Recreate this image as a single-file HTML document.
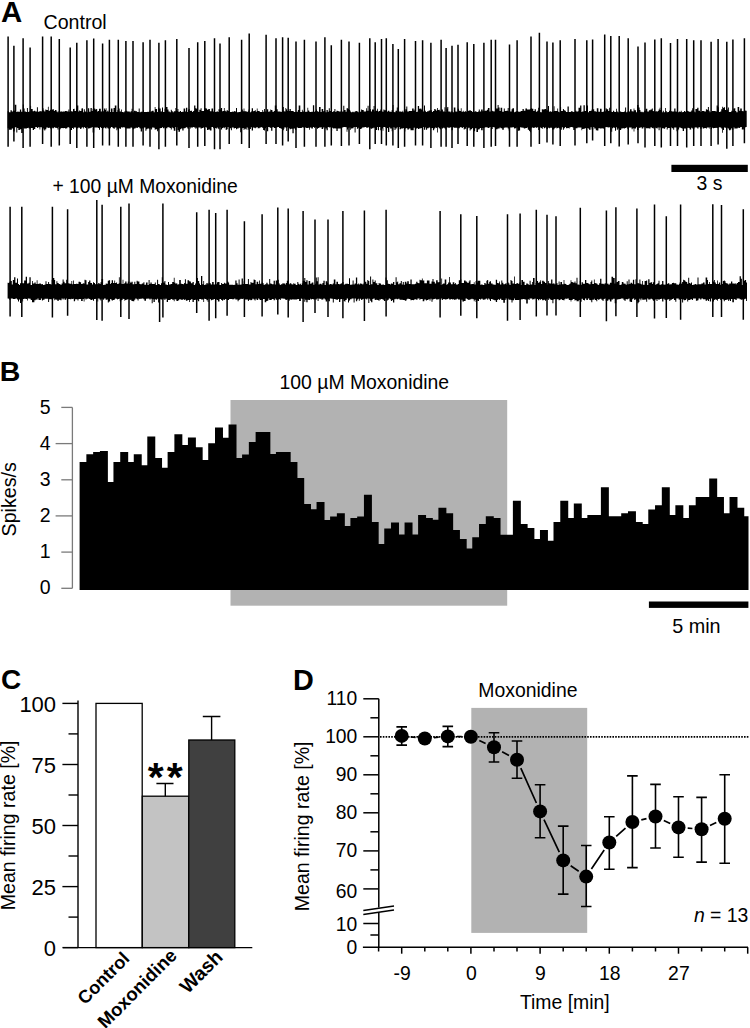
<!DOCTYPE html><html><head><meta charset="utf-8"><style>html,body{margin:0;padding:0;background:#fff;}svg{display:block;}text{font-family:"Liberation Sans", sans-serif;}</style></head><body>
<svg width="750" height="1028" viewBox="0 0 750 1028">
<rect width="750" height="1028" fill="#fff"/>
<text x="1.05" y="21.8" font-size="29.4" font-weight="bold">A</text>
<text x="43.5" y="29.1" font-size="19.6">Control</text>
<path d="M7.6 111.3V111.3H8.9V112.3H10.5V110.3H11.8V111.4H13.1V110.7H14.7V104.7H16.3V112.0H17.3V111.6H18.3V111.8H19.9V109.6H21.2V111.7H22.8V104.6H23.8V108.4H24.6V111.6H25.9V112.1H26.9V108.0H27.9V111.9H28.7V111.5H30.3V105.8H31.1V108.9H32.7V111.3H34.0V110.8H35.3V111.6H36.9V107.3H37.9V111.7H39.5V111.1H40.3V111.3H41.9V111.9H42.7V108.3H43.5V110.5H44.3V111.4H45.3V109.4H46.3V110.0H47.9V106.7H48.7V110.8H50.0V109.8H51.0V110.0H52.3V109.2H53.9V111.0H54.9V110.0H56.5V111.4H57.5V112.2H58.5V111.1H59.8V112.1H60.6V111.1H61.4V111.8H62.7V111.4H63.7V111.6H65.0V111.0H66.6V111.3H67.4V111.6H68.4V109.4H69.4V111.8H70.4V111.3H72.0V111.4H73.0V109.0H73.8V108.8H74.6V111.0H76.2V108.4H77.0V105.5H78.3V111.5H79.1V110.4H80.1V111.0H81.4V108.4H82.2V108.3H83.0V112.3H83.8V109.2H84.8V111.6H85.8V111.8H86.6V112.2H87.9V108.2H89.2V111.8H90.5V108.0H91.8V111.0H92.6V108.7H94.2V108.4H95.2V109.6H96.2V108.9H97.2V111.4H98.0V111.1H99.0V108.7H100.0V108.8H100.8V111.6H102.1V109.2H102.9V111.2H103.9V108.5H104.9V109.8H105.7V108.2H106.5V111.7H107.3V110.7H108.6V112.0H109.9V111.9H110.9V108.6H112.5V112.1H113.5V107.9H114.8V105.6H116.4V111.9H117.4V110.3H118.4V108.4H119.7V111.4H121.0V109.6H121.8V111.9H123.1V112.2H124.4V111.3H125.4V111.2H126.2V110.7H127.2V111.6H128.8V111.5H129.8V112.2H130.6V111.3H131.6V108.7H132.6V112.2H133.9V110.7H135.5V111.2H137.1V111.9H137.9V112.1H138.7V108.5H139.7V112.2H140.7V111.7H142.0V111.8H143.0V109.9H143.8V112.0H145.4V112.0H146.4V112.0H147.4V111.8H148.7V112.1H149.5V110.5H150.3V111.9H151.1V111.2H152.1V110.8H153.7V112.2H154.7V107.1H155.5V109.1H157.1V112.0H158.1V107.5H159.1V108.5H160.7V111.5H162.0V107.6H163.0V111.9H164.6V108.8H165.9V107.1H167.5V109.6H168.5V111.6H169.8V112.2H170.8V109.8H171.8V111.3H172.8V112.2H173.8V111.2H175.4V108.0H176.4V111.1H177.4V108.9H178.4V111.8H180.0V111.1H181.0V111.9H182.3V111.8H183.6V108.4H185.2V111.4H186.0V107.8H187.3V112.0H188.1V109.4H188.9V109.0H189.7V110.9H190.5V110.8H192.1V112.1H193.1V111.1H194.1V105.6H195.4V108.3H196.4V108.7H197.7V112.1H199.3V109.8H200.6V108.3H201.6V111.0H203.2V111.0H204.2V108.0H205.0V108.2H206.0V108.6H207.0V109.8H208.3V109.1H209.9V111.2H211.5V108.5H213.1V111.4H213.9V111.7H214.9V112.0H215.9V111.7H216.9V111.3H217.7V111.9H218.5V109.2H219.5V109.4H220.8V107.9H222.1V111.3H223.1V111.0H223.9V107.9H224.7V110.8H225.7V111.5H226.7V109.9H227.7V110.9H229.3V112.1H230.9V112.0H231.9V111.5H232.7V111.9H233.7V111.1H234.7V111.6H236.0V108.0H237.0V112.3H238.6V112.1H240.2V111.7H241.2V109.6H242.8V111.2H243.6V108.5H244.4V111.3H245.7V111.2H246.7V112.1H247.7V111.2H248.5V109.6H249.3V112.2H250.9V111.5H251.7V108.3H253.0V111.2H253.8V110.9H254.8V110.3H255.8V111.7H256.8V108.6H257.6V111.0H258.4V111.0H259.7V112.1H261.3V111.9H262.3V110.0H263.1V111.7H264.1V109.0H265.1V111.4H266.1V111.7H266.9V109.2H268.2V111.8H269.0V111.6H270.3V109.6H271.1V109.9H272.4V111.7H274.0V110.9H274.8V105.6H276.4V109.3H277.7V111.4H279.0V111.6H280.6V112.1H281.4V111.8H283.0V107.1H283.8V111.3H284.6V111.5H285.4V107.9H286.2V109.3H287.2V111.0H288.5V110.9H289.5V109.1H290.8V110.9H292.4V110.9H293.7V112.0H295.0V112.0H296.3V111.8H297.9V110.0H298.7V105.6H300.3V112.0H301.9V109.7H302.7V111.6H303.7V111.5H305.3V111.9H306.1V111.8H307.4V107.8H308.2V110.6H309.2V111.8H310.0V112.1H311.3V111.8H312.9V105.2H314.2V111.7H315.2V110.9H316.0V109.4H317.0V111.3H318.0V111.7H319.0V107.1H320.6V112.0H321.6V109.0H323.2V111.3H324.2V111.1H325.2V112.3H326.5V109.9H327.8V111.8H328.8V108.2H329.8V110.9H331.1V111.4H332.1V112.1H333.1V111.3H334.4V109.0H335.4V112.0H336.4V110.8H337.7V111.0H338.7V111.5H340.3V111.4H341.3V111.8H342.3V111.6H343.3V105.8H344.3V110.0H345.6V111.8H346.6V108.3H347.4V108.2H348.2V109.1H349.2V109.9H350.2V111.6H351.0V112.2H352.3V111.8H353.6V112.2H354.6V111.4H355.6V111.1H356.9V111.6H358.2V112.2H359.8V111.7H361.1V109.6H362.1V109.9H363.7V111.4H365.0V111.4H366.0V108.2H366.8V110.8H367.6V105.8H368.6V110.7H370.2V108.9H371.0V111.4H372.0V109.6H373.6V106.1H374.6V111.6H375.6V110.8H377.2V108.8H378.0V111.4H379.0V111.1H380.3V109.5H381.6V111.4H382.6V111.7H383.4V109.6H384.4V110.3H385.4V110.2H386.4V112.0H387.2V111.4H388.0V110.8H389.3V111.7H390.1V111.7H391.7V109.9H392.7V105.0H393.5V112.1H394.5V112.2H395.5V110.7H396.8V107.5H397.8V111.7H398.8V111.6H399.6V111.4H400.9V111.8H402.5V110.8H403.3V112.3H404.3V111.3H405.3V109.3H406.3V106.5H407.3V111.4H408.9V111.0H410.5V110.9H412.1V108.6H413.7V110.5H414.7V109.0H416.0V111.9H417.0V111.8H417.8V106.1H419.1V108.8H420.4V108.5H421.4V109.4H422.7V111.5H424.0V105.4H425.0V110.8H425.8V112.1H427.1V111.2H428.7V110.4H430.3V110.3H431.9V112.1H432.9V111.1H434.2V109.1H435.2V109.5H436.2V110.7H437.0V107.9H437.8V109.9H438.8V109.8H439.8V111.3H441.1V109.6H441.9V109.4H442.9V111.6H444.5V107.2H445.5V112.0H446.5V108.6H447.3V106.9H448.3V111.5H449.9V112.3H450.7V111.3H451.5V111.5H452.8V112.2H453.8V107.5H455.4V111.4H456.7V111.8H457.7V108.7H459.0V110.8H459.8V111.0H460.8V108.3H461.6V111.8H462.9V110.8H463.7V112.1H464.7V111.2H466.3V112.1H467.3V111.1H468.3V110.8H469.6V110.0H470.6V111.1H472.2V112.0H473.8V111.8H475.1V111.3H476.4V111.9H478.0V111.4H478.8V109.6H479.8V111.5H481.1V109.4H482.7V111.2H484.3V110.8H485.3V110.7H486.9V109.8H487.9V108.0H489.5V111.6H491.1V110.8H492.7V111.2H493.7V111.4H494.7V111.2H496.0V108.5H497.6V105.0H498.6V107.6H499.6V110.9H500.6V107.7H502.2V111.7H503.8V108.5H504.8V110.9H506.4V110.7H507.7V108.1H508.7V111.2H510.0V111.4H511.6V109.2H512.4V108.2H514.0V112.2H514.8V111.7H516.4V111.1H517.7V111.4H518.5V111.8H520.1V111.5H520.9V110.9H522.5V109.0H523.8V110.7H525.4V108.5H527.0V109.4H527.8V109.5H529.1V109.5H529.9V108.9H530.9V108.0H531.7V108.7H533.3V111.0H534.6V109.3H535.9V111.8H537.2V110.8H538.2V107.7H539.2V111.9H540.5V112.2H541.8V109.2H542.8V109.5H543.8V109.2H545.1V109.1H546.4V110.3H548.0V106.0H549.0V111.8H549.8V111.2H550.8V111.7H552.1V111.4H553.7V106.2H554.5V110.9H555.5V111.1H556.5V110.9H557.3V108.5H558.1V111.8H559.1V112.2H560.1V107.1H561.1V111.1H561.9V110.9H562.9V108.9H563.9V110.2H564.9V110.8H565.9V111.9H567.5V106.6H568.8V112.0H569.6V111.9H570.9V111.3H572.5V111.7H573.3V112.0H574.9V110.8H576.5V111.8H577.5V111.2H578.5V107.8H580.1V105.5H581.4V112.1H582.2V111.5H583.5V105.2H584.8V110.9H586.4V105.4H588.0V112.3H589.0V110.9H590.6V110.7H591.6V109.6H593.2V109.3H594.2V111.2H595.8V111.7H596.8V108.2H598.4V111.8H600.0V108.8H601.6V112.1H602.6V111.7H603.6V111.4H604.6V111.3H605.6V108.3H606.6V109.2H608.2V110.9H609.2V107.8H610.2V111.0H611.2V111.9H612.2V111.9H613.0V110.8H614.0V111.8H615.0V112.1H616.0V108.8H616.8V111.4H617.8V112.2H619.1V111.4H619.9V111.4H621.2V112.1H622.5V112.1H624.1V111.4H625.1V107.6H626.1V112.3H627.4V111.5H628.2V111.2H629.0V111.5H630.0V109.3H631.6V111.2H632.6V111.6H633.6V108.4H634.4V110.3H636.0V112.2H637.0V104.9H638.6V107.4H639.6V110.1H640.4V111.8H641.7V112.2H642.5V111.8H643.3V112.2H644.1V110.8H645.7V108.8H647.3V111.6H648.9V110.3H650.5V109.4H651.8V108.4H652.8V111.1H653.8V111.6H654.8V111.7H655.6V110.9H656.6V111.7H657.6V111.0H658.6V109.4H659.6V107.7H660.4V109.9H662.0V112.3H662.8V110.7H663.8V112.3H665.1V107.9H665.9V110.9H666.7V112.2H667.7V112.0H669.0V110.8H670.3V111.1H671.6V111.6H673.2V111.4H674.2V108.5H675.5V111.6H676.5V111.8H678.1V112.2H679.1V111.4H679.9V112.0H680.7V110.7H681.7V112.3H682.7V112.0H684.0V111.0H685.3V111.9H686.3V110.6H687.3V111.1H688.6V111.7H689.6V111.8H691.2V110.4H692.2V108.3H693.0V111.4H694.6V112.3H695.4V109.1H696.4V109.0H697.2V107.8H698.5V110.8H700.1V112.0H701.7V111.0H702.7V110.9H704.3V111.6H705.9V109.2H706.9V109.8H707.9V107.0H708.9V110.7H709.7V112.3H710.7V111.7H712.0V111.0H713.0V111.1H714.0V110.9H715.6V111.4H716.6V105.6H717.9V107.2H718.9V112.0H720.2V111.5H721.2V109.3H722.2V106.8H723.0V107.8H724.0V107.3H725.0V110.1H726.3V111.3H727.1V109.4H727.9V107.6H728.9V112.0H730.5V111.9H731.3V110.8H732.3V111.1H733.3V108.5H734.3V108.3H735.3V111.0H736.3V112.2H737.6V107.0H739.2V110.7H740.2V108.5H741.8V111.1H742.6V111.2H743.9V110.4H745.5V110.8H746.7V126.9H745.5V127.6H743.9V129.5H742.6V129.4H741.8V127.0H740.2V128.1H739.2V127.8H737.6V128.4H736.3V128.4H735.3V128.6H734.3V127.2H733.3V129.7H732.3V128.2H731.3V129.5H730.5V130.2H728.9V128.6H727.9V127.7H727.1V128.6H726.3V127.8H725.0V127.4H724.0V130.1H723.0V132.8H722.2V128.5H721.2V127.5H720.2V127.2H718.9V127.6H717.9V128.0H716.6V127.8H715.6V128.1H714.0V128.3H713.0V127.8H712.0V129.1H710.7V126.9H709.7V128.5H708.9V127.5H707.9V127.6H706.9V128.4H705.9V128.0H704.3V128.4H702.7V127.3H701.7V128.8H700.1V127.2H698.5V128.6H697.2V127.5H696.4V127.5H695.4V127.3H694.6V128.6H693.0V128.6H692.2V127.7H691.2V129.5H689.6V128.1H688.6V127.7H687.3V128.1H686.3V128.5H685.3V128.4H684.0V131.0H682.7V128.4H681.7V127.9H680.7V127.4H679.9V127.6H679.1V129.4H678.1V131.3H676.5V127.4H675.5V127.5H674.2V129.8H673.2V128.2H671.6V127.2H670.3V128.1H669.0V127.9H667.7V129.5H666.7V127.1H665.9V127.5H665.1V128.8H663.8V128.3H662.8V128.3H662.0V127.4H660.4V127.5H659.6V130.3H658.6V127.4H657.6V128.4H656.6V128.1H655.6V127.5H654.8V127.6H653.8V128.5H652.8V128.0H651.8V127.2H650.5V128.4H648.9V128.2H647.3V128.3H645.7V127.3H644.1V127.2H643.3V128.5H642.5V128.6H641.7V127.3H640.4V128.0H639.6V127.7H638.6V129.9H637.0V127.3H636.0V128.5H634.4V131.6H633.6V128.3H632.6V129.2H631.6V127.5H630.0V127.6H629.0V130.0H628.2V129.0H627.4V127.4H626.1V128.0H625.1V128.5H624.1V128.2H622.5V128.4H621.2V130.1H619.9V129.7H619.1V128.4H617.8V129.8H616.8V127.2H616.0V130.7H615.0V127.7H614.0V127.5H613.0V128.2H612.2V131.7H611.2V126.9H610.2V127.3H609.2V127.4H608.2V127.2H606.6V127.0H605.6V127.2H604.6V128.7H603.6V128.6H602.6V128.2H601.6V128.4H600.0V128.3H598.4V130.5H596.8V130.2H595.8V128.5H594.2V127.0H593.2V129.5H591.6V127.3H590.6V129.8H589.0V128.6H588.0V128.0H586.4V128.2H584.8V128.7H583.5V129.1H582.2V130.3H581.4V127.6H580.1V127.6H578.5V127.6H577.5V128.2H576.5V128.3H574.9V130.0H573.3V127.4H572.5V127.0H570.9V127.2H569.6V128.6H568.8V128.0H567.5V128.2H565.9V127.1H564.9V128.3H563.9V129.7H562.9V127.3H561.9V129.7H561.1V128.6H560.1V128.5H559.1V127.8H558.1V127.9H557.3V128.6H556.5V127.6H555.5V128.1H554.5V129.2H553.7V129.4H552.1V127.7H550.8V127.8H549.8V128.3H549.0V127.7H548.0V128.9H546.4V127.5H545.1V128.2H543.8V126.9H542.8V128.7H541.8V127.9H540.5V127.0H539.2V130.0H538.2V127.2H537.2V127.7H535.9V127.2H534.6V128.0H533.3V127.5H531.7V128.2H530.9V132.2H529.9V131.1H529.1V129.7H527.8V127.5H527.0V128.1H525.4V128.6H523.8V127.7H522.5V127.4H520.9V127.2H520.1V130.5H518.5V131.0H517.7V127.4H516.4V128.2H514.8V128.4H514.0V127.3H512.4V127.4H511.6V127.5H510.0V130.4H508.7V128.6H507.7V127.6H506.4V127.6H504.8V127.7H503.8V129.8H502.2V128.2H500.6V127.6H499.6V128.4H498.6V128.4H497.6V129.3H496.0V127.0H494.7V127.6H493.7V127.1H492.7V128.9H491.1V127.1H489.5V128.1H487.9V127.4H486.9V127.2H485.3V127.4H484.3V127.9H482.7V130.3H481.1V128.1H479.8V129.2H478.8V129.4H478.0V132.0H476.4V128.3H475.1V131.2H473.8V128.1H472.2V129.2H470.6V130.4H469.6V127.8H468.3V128.5H467.3V127.0H466.3V128.7H464.7V129.6H463.7V127.0H462.9V128.0H461.6V126.9H460.8V127.2H459.8V128.3H459.0V128.3H457.7V127.8H456.7V127.8H455.4V127.8H453.8V127.3H452.8V130.3H451.5V127.1H450.7V127.4H449.9V127.8H448.3V127.5H447.3V127.2H446.5V129.8H445.5V128.4H444.5V127.7H442.9V128.5H441.9V127.6H441.1V129.2H439.8V128.3H438.8V127.2H437.8V132.5H437.0V128.0H436.2V127.4H435.2V128.6H434.2V130.3H432.9V127.9H431.9V128.2H430.3V127.4H428.7V128.2H427.1V129.7H425.8V127.5H425.0V129.7H424.0V126.9H422.7V128.0H421.4V128.3H420.4V128.5H419.1V129.0H417.8V128.1H417.0V128.6H416.0V127.4H414.7V127.8H413.7V130.3H412.1V130.3H410.5V128.4H408.9V129.4H407.3V128.1H406.3V128.5H405.3V131.5H404.3V128.0H403.3V128.4H402.5V128.6H400.9V129.3H399.6V127.0H398.8V127.3H397.8V127.2H396.8V128.4H395.5V130.1H394.5V127.5H393.5V127.1H392.7V131.3H391.7V128.6H390.1V127.3H389.3V131.9H388.0V127.9H387.2V128.4H386.4V127.8H385.4V127.1H384.4V126.9H383.4V130.7H382.6V128.6H381.6V130.3H380.3V127.1H379.0V130.2H378.0V127.0H377.2V130.1H375.6V127.9H374.6V127.6H373.6V128.2H372.0V128.7H371.0V128.4H370.2V127.5H368.6V127.2H367.6V128.1H366.8V127.6H366.0V127.1H365.0V127.3H363.7V127.5H362.1V128.4H361.1V129.1H359.8V127.7H358.2V128.7H356.9V126.9H355.6V132.6H354.6V127.0H353.6V128.3H352.3V128.4H351.0V129.8H350.2V127.4H349.2V127.8H348.2V129.6H347.4V131.8H346.6V127.3H345.6V127.1H344.3V127.0H343.3V127.5H342.3V127.4H341.3V128.5H340.3V128.5H338.7V128.6H337.7V130.9H336.4V128.4H335.4V128.2H334.4V128.6H333.1V127.8H332.1V130.9H331.1V127.3H329.8V127.4H328.8V127.1H327.8V130.2H326.5V128.6H325.2V127.1H324.2V127.4H323.2V129.1H321.6V127.3H320.6V127.6H319.0V128.1H318.0V128.7H317.0V127.5H316.0V126.9H315.2V128.1H314.2V127.1H312.9V128.4H311.3V127.4H310.0V129.7H309.2V127.7H308.2V128.0H307.4V128.1H306.1V127.4H305.3V127.5H303.7V127.6H302.7V127.2H301.9V128.1H300.3V128.0H298.7V128.1H297.9V127.4H296.3V129.8H295.0V128.5H293.7V133.3H292.4V128.7H290.8V129.3H289.5V127.9H288.5V127.3H287.2V131.1H286.2V127.7H285.4V127.0H284.6V128.4H283.8V130.3H283.0V128.7H281.4V128.7H280.6V128.0H279.0V127.0H277.7V127.3H276.4V128.1H274.8V128.0H274.0V127.3H272.4V130.8H271.1V128.1H270.3V127.3H269.0V127.1H268.2V131.2H266.9V126.9H266.1V128.3H265.1V130.5H264.1V130.1H263.1V128.1H262.3V126.9H261.3V127.6H259.7V128.3H258.4V128.2H257.6V126.9H256.8V127.5H255.8V128.2H254.8V127.7H253.8V127.4H253.0V130.6H251.7V127.3H250.9V129.0H249.3V128.5H248.5V130.0H247.7V127.4H246.7V129.5H245.7V128.7H244.4V130.0H243.6V127.9H242.8V128.2H241.2V132.3H240.2V127.7H238.6V128.6H237.0V129.3H236.0V128.0H234.7V128.4H233.7V127.5H232.7V127.6H231.9V130.3H230.9V128.3H229.3V127.1H227.7V129.3H226.7V129.9H225.7V127.2H224.7V128.2H223.9V127.5H223.1V128.0H222.1V129.4H220.8V127.3H219.5V129.3H218.5V128.5H217.7V127.6H216.9V128.6H215.9V128.0H214.9V130.1H213.9V128.3H213.1V127.0H211.5V130.5H209.9V129.6H208.3V129.9H207.0V127.5H206.0V127.1H205.0V128.1H204.2V127.4H203.2V128.0H201.6V128.8H200.6V127.4H199.3V127.4H197.7V127.7H196.4V128.7H195.4V127.5H194.1V126.9H193.1V127.5H192.1V127.4H190.5V128.8H189.7V127.0H188.9V128.7H188.1V128.4H187.3V127.3H186.0V127.7H185.2V128.2H183.6V130.4H182.3V128.6H181.0V129.2H180.0V131.8H178.4V130.1H177.4V127.2H176.4V127.0H175.4V130.8H173.8V128.3H172.8V127.4H171.8V129.5H170.8V127.9H169.8V127.4H168.5V126.9H167.5V128.2H165.9V127.3H164.6V128.3H163.0V127.2H162.0V128.1H160.7V128.3H159.1V129.7H158.1V131.3H157.1V129.2H155.5V129.8H154.7V127.7H153.7V127.4H152.1V129.4H151.1V128.3H150.3V129.3H149.5V128.6H148.7V128.5H147.4V129.2H146.4V130.8H145.4V127.5H143.8V128.6H143.0V128.6H142.0V131.4H140.7V128.4H139.7V127.4H138.7V127.1H137.9V127.9H137.1V127.7H135.5V128.5H133.9V129.3H132.6V127.8H131.6V127.4H130.6V128.5H129.8V128.5H128.8V128.5H127.2V128.4H126.2V128.3H125.4V127.6H124.4V127.2H123.1V127.5H121.8V127.2H121.0V128.7H119.7V128.2H118.4V128.7H117.4V130.3H116.4V127.4H114.8V128.7H113.5V127.9H112.5V127.1H110.9V128.2H109.9V129.0H108.6V128.2H107.3V127.2H106.5V128.5H105.7V128.3H104.9V127.5H103.9V128.3H102.9V130.0H102.1V128.1H100.8V127.0H100.0V129.7H99.0V128.1H98.0V127.5H97.2V127.5H96.2V127.6H95.2V127.4H94.2V132.5H92.6V126.9H91.8V127.7H90.5V128.2H89.2V128.4H87.9V127.3H86.6V127.7H85.8V128.0H84.8V127.1H83.8V128.4H83.0V127.2H82.2V127.8H81.4V129.1H80.1V127.8H79.1V127.4H78.3V128.3H77.0V128.6H76.2V127.4H74.6V127.5H73.8V129.1H73.0V128.1H72.0V129.9H70.4V128.0H69.4V127.3H68.4V127.2H67.4V128.2H66.6V128.5H65.0V128.1H63.7V128.2H62.7V128.1H61.4V128.3H60.6V129.3H59.8V127.1H58.5V129.4H57.5V128.1H56.5V127.8H54.9V127.2H53.9V128.3H52.3V127.6H51.0V128.6H50.0V127.7H48.7V127.9H47.9V127.5H46.3V129.3H45.3V130.5H44.3V129.6H43.5V128.2H42.7V127.6H41.9V127.3H40.3V129.5H39.5V127.3H37.9V127.9H36.9V127.1H35.3V128.9H34.0V130.0H32.7V127.9H31.1V128.3H30.3V128.6H28.7V127.7H27.9V128.1H26.9V128.6H25.9V128.4H24.6V128.6H23.8V127.7H22.8V133.0H21.2V129.3H19.9V130.1H18.3V128.0H17.3V132.6H16.3V127.2H14.7V131.5H13.1V128.6H11.8V129.7H10.5V129.8H8.9V128.3H7.6Z" fill="#000"/>
<path d="M8.1 36.5V146.7M13.9 45.8V141.6M23.1 38.2V148.0M30.1 47.4V146.7M42.6 36.5V144.1M51.2 36.5V146.7M59.3 39.0V145.4M70.2 47.4V144.1M76.8 42.8V148.0M86.9 40.3V146.7M93.7 38.5V148.0M102.6 43.6V145.4M109.4 39.8V145.4M118.3 39.8V146.7M125.9 41.0V146.7M133.0 41.0V146.7M143.1 42.3V145.4M150.0 39.8V146.7M158.9 42.8V149.2M165.4 40.3V146.7M176.8 39.0V145.4M189.0 47.9V148.0M197.7 42.3V146.7M204.8 41.0V146.0M214.5 38.2V149.2M220.0 43.6V149.2M229.2 37.2V144.0M241.6 39.8V144.0M249.2 33.4V148.0M266.1 34.7V144.0M276.0 38.2V144.0M282.6 37.2V145.4M288.2 37.7V141.6M296.0 41.5V148.0M304.4 39.8V146.7M316.0 41.5V146.7M324.9 37.2V146.7M331.3 45.3V145.4M341.4 39.8V146.0M349.0 41.5V145.4M359.4 42.8V144.0M369.8 38.2V149.2M375.2 42.3V144.0M381.5 39.0V144.0M386.3 38.2V145.4M392.9 44.1V145.4M398.3 49.1V148.0M404.6 39.0V146.7M415.5 41.0V145.4M422.6 40.3V145.4M430.9 42.8V148.0M441.1 39.8V146.7M446.1 47.9V146.7M452.0 45.8V148.0M458.0 44.8V144.0M467.2 42.3V146.0M473.8 44.1V146.7M483.9 42.8V148.0M491.2 39.8V146.7M495.5 39.8V146.0M509.5 44.6V146.7M517.1 40.3V146.7M531.0 36.5V146.7M539.4 32.7V144.0M547.0 41.6V142.5M552.9 42.4V144.6M560.2 40.2V146.0M575.0 39.0V145.5M586.8 40.2V143.2M592.6 39.6V140.4M604.7 34.6V146.0M610.8 36.0V143.2M619.2 36.0V146.6M628.2 38.2V144.6M638.0 46.6V143.2M645.0 42.4V147.4M654.8 39.6V146.0M661.3 38.2V147.4M670.5 43.0V146.0M677.5 39.0V146.0M686.7 39.0V147.4M693.7 40.2V146.0M701.0 40.2V146.0M711.1 41.8V146.0M718.1 39.0V144.6M726.8 41.8V148.8M732.9 39.6V146.0M744.4 38.2V143.2" stroke="#000" stroke-width="1.5" fill="none"/>
<rect x="671.4" y="164.8" width="76.4" height="7.2" fill="#000"/>
<text x="696.5" y="189.8" font-size="19.4">3 s</text>
<text x="52.5" y="193" font-size="19.3">+ 100 µM Moxonidine</text>
<path d="M7.6 282.7V282.7H8.6V283.1H9.4V281.7H10.2V280.9H11.8V284.6H12.8V280.1H14.1V277.3H15.4V282.7H17.0V278.4H18.0V284.0H19.0V285.0H20.0V283.2H21.0V283.1H22.3V283.3H23.1V283.3H24.1V280.4H25.7V276.7H27.0V283.6H27.8V283.4H28.6V282.8H29.4V277.2H30.7V284.9H32.0V281.1H32.8V283.5H34.4V282.4H35.7V284.1H36.7V280.2H37.5V284.1H38.5V283.7H39.3V283.5H40.9V284.3H41.9V284.1H42.9V284.9H44.5V284.6H45.5V281.3H46.5V283.9H48.1V282.1H49.1V284.1H50.7V284.6H51.7V279.8H52.7V278.0H54.3V280.1H55.1V284.2H56.4V281.2H57.4V282.9H58.7V283.9H60.3V284.8H61.6V283.4H62.6V279.6H63.6V281.8H64.6V283.3H66.2V279.7H67.2V283.2H68.8V283.5H69.8V283.7H71.4V280.9H72.2V284.3H73.0V280.6H73.8V284.1H75.1V284.0H75.9V283.7H77.5V284.1H78.5V281.8H80.1V282.3H81.1V284.0H82.7V283.2H83.7V283.6H84.5V279.7H85.5V280.3H86.5V284.6H88.1V282.1H89.1V280.5H90.4V282.9H92.0V284.5H93.0V282.2H94.0V283.0H95.0V284.3H95.8V284.1H97.4V284.3H98.2V283.0H99.5V284.1H100.5V282.2H101.5V279.1H103.1V284.9H104.1V284.7H105.7V283.4H106.5V283.7H107.8V280.7H108.8V280.3H110.1V284.0H110.9V283.1H111.7V280.2H113.0V283.0H114.3V280.5H115.1V283.0H116.1V282.5H117.1V284.1H117.9V283.7H118.9V277.2H119.7V283.3H121.3V284.1H122.6V279.8H123.4V284.0H124.4V283.1H125.2V281.5H126.5V283.5H127.8V281.6H128.8V284.0H129.6V281.8H130.4V282.7H131.4V281.7H132.7V284.2H134.3V281.8H135.3V284.0H136.6V280.7H137.6V281.5H138.6V281.5H139.4V284.1H140.2V284.3H141.8V283.6H143.4V282.2H144.4V284.7H146.0V282.4H147.6V284.9H148.6V279.9H149.6V283.9H150.4V282.4H151.7V284.0H152.7V283.9H153.5V284.1H154.8V282.5H155.8V285.0H157.1V279.7H158.1V284.1H159.7V285.0H161.0V283.3H161.8V277.2H162.8V282.5H164.4V281.1H165.4V284.4H166.7V284.9H168.0V281.9H169.0V284.5H170.6V284.1H172.2V282.1H173.8V277.7H174.6V282.8H175.6V284.1H176.4V283.1H177.2V284.6H178.2V284.2H179.2V279.9H180.8V283.8H182.1V284.1H183.1V284.3H184.1V283.1H184.9V279.3H185.9V283.7H187.5V280.2H189.1V281.2H189.9V281.5H190.9V283.3H192.5V282.0H193.8V284.9H195.1V283.5H196.1V284.1H196.9V278.0H197.9V281.0H199.2V283.5H200.0V285.0H201.0V276.0H202.3V284.2H203.3V281.0H204.1V284.9H205.1V284.4H206.4V283.0H207.7V284.2H208.5V282.8H209.8V283.3H210.8V284.4H212.1V281.9H213.7V284.5H215.3V284.3H216.9V282.2H217.9V282.1H219.5V284.9H221.1V283.0H222.1V284.1H223.1V284.0H223.9V282.8H224.9V283.5H225.7V283.4H227.0V281.4H228.3V282.4H229.1V284.8H230.4V284.8H232.0V284.8H233.3V284.9H234.3V284.7H235.3V280.4H236.6V283.2H237.6V284.7H238.6V279.4H239.6V284.8H240.6V284.6H241.6V278.5H242.9V284.0H243.7V281.3H245.0V283.9H246.3V284.0H247.9V278.9H248.9V284.5H250.5V281.9H251.5V282.9H252.3V282.8H253.6V279.4H254.6V280.1H255.6V284.2H256.6V281.8H258.2V283.9H259.2V280.6H260.0V283.8H261.6V282.6H262.9V283.2H263.7V284.9H264.7V284.2H266.3V282.8H267.6V284.3H268.4V284.4H269.2V278.9H270.2V283.6H271.0V283.8H272.0V284.2H273.6V280.8H274.9V284.6H275.7V280.6H277.0V280.6H277.8V279.7H278.8V283.4H279.8V284.9H280.8V284.3H282.4V283.2H283.4V283.4H285.0V284.5H285.8V283.1H286.8V280.8H288.4V284.2H289.7V283.2H291.3V284.3H292.3V284.5H293.3V283.3H294.1V283.8H295.7V284.9H297.3V281.9H298.3V283.7H299.1V284.5H299.9V283.7H300.9V284.9H301.7V283.5H302.7V280.9H304.3V278.1H305.3V282.0H306.3V280.3H307.6V284.4H308.6V281.1H310.2V283.8H311.0V283.4H311.8V282.4H313.4V284.8H315.0V283.7H315.8V277.5H316.8V281.3H317.6V277.2H318.6V284.4H319.6V283.7H320.4V283.8H321.4V284.4H322.4V283.1H323.4V280.7H324.7V284.9H325.7V281.3H327.3V282.8H328.3V284.4H329.9V284.1H331.5V284.6H332.8V283.4H333.8V279.4H335.4V284.3H336.4V281.7H338.0V284.1H339.0V284.2H340.3V283.7H341.3V283.2H342.3V281.9H343.6V284.7H344.6V284.3H345.4V283.8H346.7V283.7H348.0V284.1H349.0V278.3H350.0V284.7H351.6V284.4H352.6V280.5H353.6V284.5H354.6V283.6H355.9V277.6H357.2V284.2H358.0V283.5H358.8V284.4H359.8V283.4H361.1V283.8H362.4V284.6H363.4V283.5H365.0V281.7H366.3V283.7H367.3V279.9H368.3V281.1H369.3V285.0H370.1V276.6H371.1V284.2H372.4V279.5H373.4V282.1H374.7V280.4H375.7V283.3H377.3V285.0H378.6V283.1H379.4V283.5H381.0V284.7H382.6V284.5H383.9V284.9H385.5V277.5H386.5V280.2H387.8V283.8H388.8V284.1H390.1V284.4H390.9V283.4H392.2V283.7H393.0V282.0H394.3V284.9H395.6V277.3H396.6V282.2H397.4V281.6H398.2V284.3H399.5V283.2H400.8V281.1H401.8V284.6H402.8V282.0H403.8V284.8H404.8V281.7H406.4V283.4H407.2V281.2H408.8V284.0H410.4V279.4H411.7V284.3H413.3V284.3H414.1V284.2H414.9V283.7H416.2V281.7H417.5V283.0H418.5V283.3H419.5V279.8H420.3V280.2H421.9V278.6H422.7V280.6H424.3V283.2H425.9V283.2H426.9V280.5H428.5V280.4H429.5V283.7H430.5V283.7H431.5V281.5H432.5V279.0H433.5V281.8H434.8V283.4H436.1V280.3H437.7V282.3H439.3V281.9H440.3V285.0H441.3V278.5H442.1V284.2H443.1V283.4H444.7V279.6H446.3V284.7H447.3V283.9H448.1V282.4H449.1V277.0H449.9V282.4H450.9V284.3H451.9V284.2H452.7V282.2H454.3V284.0H455.1V283.1H455.9V284.5H456.7V284.5H458.0V284.1H458.8V280.2H460.4V279.6H461.4V283.1H462.4V283.1H464.0V280.6H465.6V281.4H466.9V282.6H467.7V282.9H468.7V281.4H469.5V280.3H470.5V284.2H471.5V284.1H472.5V283.9H473.8V282.2H474.6V284.5H475.6V280.9H476.6V282.5H477.4V280.7H479.0V280.7H480.3V284.8H481.1V284.4H482.7V284.9H484.3V282.9H485.6V284.3H486.4V280.7H487.2V280.1H488.2V283.8H489.2V281.8H490.0V281.2H491.0V283.6H492.6V284.5H494.2V284.7H495.8V279.7H497.1V283.1H497.9V283.2H499.2V281.6H500.0V284.5H501.3V280.6H502.3V282.7H503.3V284.3H504.9V283.7H505.7V283.3H506.7V284.7H507.7V282.5H508.7V283.5H509.5V284.9H510.5V280.1H511.5V280.9H512.5V283.4H514.1V276.6H514.9V284.1H516.5V283.1H517.8V283.7H519.4V282.5H520.4V284.9H521.4V280.1H523.0V281.7H524.6V284.9H526.2V283.5H527.8V284.3H528.8V284.9H529.6V280.7H530.6V284.5H532.2V282.1H533.0V278.1H534.6V284.9H535.6V283.0H536.4V281.0H538.0V282.7H539.3V281.8H540.3V280.3H541.1V284.1H542.1V280.8H543.7V281.7H545.0V283.0H546.0V283.1H546.8V284.5H547.8V281.0H548.8V283.2H549.8V283.6H551.1V279.6H552.4V283.7H553.4V283.3H554.4V284.2H556.0V283.3H557.6V284.9H558.6V281.5H559.6V284.5H560.4V282.0H562.0V284.2H563.6V280.0H564.4V283.7H565.4V284.1H566.4V284.9H567.2V284.9H568.8V284.3H569.8V283.5H570.6V280.2H571.4V282.0H572.7V282.5H573.5V282.8H574.5V281.6H575.5V283.2H576.5V277.8H577.5V284.5H578.8V284.7H579.8V281.0H580.8V284.8H581.6V282.2H582.9V283.8H584.2V283.8H585.0V279.9H586.3V283.1H587.9V283.6H589.2V284.2H590.5V282.0H591.3V280.6H592.3V283.9H593.9V279.5H594.7V283.1H595.5V283.3H596.3V283.5H597.3V284.5H598.3V285.0H599.1V283.2H600.1V278.7H601.4V283.7H602.4V283.7H603.7V284.2H604.7V283.1H605.7V283.9H607.3V283.5H608.3V284.6H609.9V282.7H611.5V276.8H613.1V278.1H614.7V283.6H616.3V281.9H617.9V280.9H619.5V285.0H620.8V284.5H621.8V281.9H623.4V283.5H624.4V283.8H625.7V284.8H626.7V281.2H627.7V284.2H628.5V279.5H629.5V284.0H630.5V282.8H632.1V283.7H632.9V279.8H634.2V284.3H635.5V279.3H636.5V283.6H637.3V283.1H638.6V283.6H639.4V279.6H640.4V283.7H641.4V284.6H642.2V281.1H643.0V284.7H644.6V281.1H646.2V280.6H647.2V284.9H648.2V279.3H649.5V283.0H650.5V282.3H652.1V284.0H652.9V282.3H654.5V285.0H655.5V284.6H656.5V284.0H657.5V283.2H658.5V280.7H659.5V284.8H661.1V284.2H662.1V281.0H663.4V284.5H664.4V284.7H665.7V284.2H666.7V284.1H667.7V283.3H669.3V284.6H670.3V284.3H671.9V283.1H673.2V282.8H674.0V283.2H675.3V283.3H676.3V284.6H677.9V284.9H678.7V284.0H679.5V282.6H680.3V283.9H681.3V283.6H682.1V282.1H683.1V279.8H683.9V280.2H685.2V281.5H686.2V282.0H687.2V283.7H688.2V277.7H689.2V283.1H690.0V283.6H691.0V282.6H692.0V284.9H693.0V284.8H694.6V283.9H695.9V284.5H697.5V277.6H698.5V284.2H700.1V284.3H701.4V283.4H703.0V282.6H704.6V284.5H705.6V277.5H707.2V279.9H708.0V284.1H709.0V282.0H709.8V283.9H711.1V283.9H712.7V281.4H714.0V280.1H714.8V282.4H715.8V284.0H717.1V280.6H717.9V284.1H718.9V282.5H720.2V284.7H721.2V284.1H722.8V280.9H723.8V280.5H724.8V281.3H725.6V283.1H726.6V283.5H728.2V284.6H729.2V283.5H730.0V283.4H731.0V281.5H732.3V283.4H733.9V283.8H734.7V283.3H735.7V284.2H736.7V283.1H738.0V281.9H739.6V276.2H740.9V278.8H741.9V284.9H743.5V280.8H744.8V279.9H746.1V282.4H747.0V301.0H746.1V298.7H744.8V299.3H743.5V299.5H741.9V299.8H740.9V299.2H739.6V298.6H738.0V298.6H736.7V299.9H735.7V299.6H734.7V299.0H733.9V302.2H732.3V299.1H731.0V301.0H730.0V299.5H729.2V301.1H728.2V299.5H726.6V300.0H725.6V300.1H724.8V301.3H723.8V299.6H722.8V299.0H721.2V299.9H720.2V298.7H718.9V299.0H717.9V300.8H717.1V299.7H715.8V299.2H714.8V300.1H714.0V301.6H712.7V298.6H711.1V301.5H709.8V298.9H709.0V301.0H708.0V299.7H707.2V300.8H705.6V299.2H704.6V299.2H703.0V298.6H701.4V299.6H700.1V298.5H698.5V300.2H697.5V300.7H695.9V298.5H694.6V298.5H693.0V300.0H692.0V299.2H691.0V299.5H690.0V300.0H689.2V300.1H688.2V301.5H687.2V298.7H686.2V299.9H685.2V300.2H683.9V299.6H683.1V302.5H682.1V299.1H681.3V299.2H680.3V299.4H679.5V299.8H678.7V298.6H677.9V298.4H676.3V301.7H675.3V300.1H674.0V298.6H673.2V299.1H671.9V299.8H670.3V301.1H669.3V299.3H667.7V299.8H666.7V300.2H665.7V299.8H664.4V298.8H663.4V301.4H662.1V298.8H661.1V298.9H659.5V300.0H658.5V299.1H657.5V300.9H656.5V299.3H655.5V299.8H654.5V300.8H652.9V299.6H652.1V298.7H650.5V299.4H649.5V299.6H648.2V298.5H647.2V301.7H646.2V299.4H644.6V299.7H643.0V299.7H642.2V298.6H641.4V300.2H640.4V298.8H639.4V302.1H638.6V303.3H637.3V301.2H636.5V299.0H635.5V299.9H634.2V298.5H632.9V299.3H632.1V301.9H630.5V301.4H629.5V298.6H628.5V299.1H627.7V299.6H626.7V299.1H625.7V300.8H624.4V299.7H623.4V298.5H621.8V298.6H620.8V299.0H619.5V299.2H617.9V299.5H616.3V303.3H614.7V298.8H613.1V299.6H611.5V301.4H609.9V299.4H608.3V300.7H607.3V300.7H605.7V298.4H604.7V299.0H603.7V300.8H602.4V299.8H601.4V298.7H600.1V299.3H599.1V300.1H598.3V298.9H597.3V301.3H596.3V300.1H595.5V300.1H594.7V298.7H593.9V299.8H592.3V302.2H591.3V300.3H590.5V300.1H589.2V298.6H587.9V299.9H586.3V298.5H585.0V300.5H584.2V300.0H582.9V298.8H581.6V301.8H580.8V299.8H579.8V300.1H578.8V301.3H577.5V301.2H576.5V300.1H575.5V300.5H574.5V299.1H573.5V299.1H572.7V300.1H571.4V301.6H570.6V300.0H569.8V299.9H568.8V298.6H567.2V299.0H566.4V298.6H565.4V299.2H564.4V300.5H563.6V300.0H562.0V299.2H560.4V300.0H559.6V300.2H558.6V299.3H557.6V299.2H556.0V299.1H554.4V299.5H553.4V303.3H552.4V299.9H551.1V299.6H549.8V298.6H548.8V300.0H547.8V298.7H546.8V299.5H546.0V300.7H545.0V299.8H543.7V300.2H542.1V298.9H541.1V299.9H540.3V298.9H539.3V300.3H538.0V298.9H536.4V298.8H535.6V298.5H534.6V299.3H533.0V299.6H532.2V298.6H530.6V298.4H529.6V299.9H528.8V299.3H527.8V303.6H526.2V299.5H524.6V299.0H523.0V299.3H521.4V299.4H520.4V299.8H519.4V299.9H517.8V300.1H516.5V300.1H514.9V298.5H514.1V300.2H512.5V302.4H511.5V299.9H510.5V299.6H509.5V299.9H508.7V298.8H507.7V300.0H506.7V298.5H505.7V300.0H504.9V302.7H503.3V300.0H502.3V300.1H501.3V298.7H500.0V300.1H499.2V299.2H497.9V299.9H497.1V301.9H495.8V300.2H494.2V299.7H492.6V299.1H491.0V300.9H490.0V299.6H489.2V298.6H488.2V299.7H487.2V298.6H486.4V298.8H485.6V299.6H484.3V299.8H482.7V298.8H481.1V299.7H480.3V299.0H479.0V301.0H477.4V300.1H476.6V302.1H475.6V299.7H474.6V301.3H473.8V299.3H472.5V298.8H471.5V299.3H470.5V299.6H469.5V300.1H468.7V299.7H467.7V299.0H466.9V298.5H465.6V301.0H464.0V301.6H462.4V299.8H461.4V299.8H460.4V299.5H458.8V299.5H458.0V298.8H456.7V299.6H455.9V299.6H455.1V300.0H454.3V299.2H452.7V299.6H451.9V298.9H450.9V299.6H449.9V299.5H449.1V298.5H448.1V299.1H447.3V299.3H446.3V299.5H444.7V299.1H443.1V300.1H442.1V298.6H441.3V299.8H440.3V298.8H439.3V299.3H437.7V299.5H436.1V298.7H434.8V299.0H433.5V299.4H432.5V301.8H431.5V298.8H430.5V300.6H429.5V298.9H428.5V300.1H426.9V300.5H425.9V299.5H424.3V301.2H422.7V299.0H421.9V298.9H420.3V299.9H419.5V298.5H418.5V298.5H417.5V299.7H416.2V299.3H414.9V299.4H414.1V300.3H413.3V300.1H411.7V300.2H410.4V299.0H408.8V298.7H407.2V299.4H406.4V300.8H404.8V299.9H403.8V300.0H402.8V299.7H401.8V299.8H400.8V299.7H399.5V298.8H398.2V299.3H397.4V299.3H396.6V298.8H395.6V299.2H394.3V302.5H393.0V300.1H392.2V300.9H390.9V299.3H390.1V298.6H388.8V299.7H387.8V300.4H386.5V298.5H385.5V300.9H383.9V299.8H382.6V299.0H381.0V299.6H379.4V301.0H378.6V300.0H377.3V299.7H375.7V300.0H374.7V298.5H373.4V298.9H372.4V302.3H371.1V300.8H370.1V298.7H369.3V303.1H368.3V298.5H367.3V299.4H366.3V298.7H365.0V298.7H363.4V299.1H362.4V299.9H361.1V298.7H359.8V300.8H358.8V298.8H358.0V299.4H357.2V301.2H355.9V298.6H354.6V302.5H353.6V298.6H352.6V298.6H351.6V299.2H350.0V300.6H349.0V302.6H348.0V298.5H346.7V300.1H345.4V301.7H344.6V301.1H343.6V299.1H342.3V298.9H341.3V299.2H340.3V302.1H339.0V299.1H338.0V299.7H336.4V299.5H335.4V298.9H333.8V302.5H332.8V298.7H331.5V298.5H329.9V301.2H328.3V299.6H327.3V301.5H325.7V299.6H324.7V298.5H323.4V299.6H322.4V299.7H321.4V298.7H320.4V299.0H319.6V298.4H318.6V301.0H317.6V298.5H316.8V299.6H315.8V299.2H315.0V299.6H313.4V299.0H311.8V299.4H311.0V298.7H310.2V300.0H308.6V299.7H307.6V302.2H306.3V299.8H305.3V301.7H304.3V298.8H302.7V299.0H301.7V298.6H300.9V301.0H299.9V301.1H299.1V299.0H298.3V299.0H297.3V299.6H295.7V299.5H294.1V299.6H293.3V299.2H292.3V299.8H291.3V299.6H289.7V300.7H288.4V299.4H286.8V300.1H285.8V299.6H285.0V298.7H283.4V298.6H282.4V298.4H280.8V300.1H279.8V299.0H278.8V299.7H277.8V299.6H277.0V299.8H275.7V298.5H274.9V300.2H273.6V299.1H272.0V299.7H271.0V300.0H270.2V299.9H269.2V298.4H268.4V300.4H267.6V301.1H266.3V302.2H264.7V299.0H263.7V299.1H262.9V300.0H261.6V299.9H260.0V299.5H259.2V298.4H258.2V300.0H256.6V298.8H255.6V300.4H254.6V299.5H253.6V298.8H252.3V300.0H251.5V300.2H250.5V299.7H248.9V300.9H247.9V299.5H246.3V299.5H245.0V298.9H243.7V298.4H242.9V299.0H241.6V298.7H240.6V299.3H239.6V299.9H238.6V301.2H237.6V299.6H236.6V299.5H235.3V298.4H234.3V299.3H233.3V299.2H232.0V299.0H230.4V299.0H229.1V300.1H228.3V299.9H227.0V299.3H225.7V299.0H224.9V300.0H223.9V299.5H223.1V300.7H222.1V299.9H221.1V299.0H219.5V301.6H217.9V299.9H216.9V299.4H215.3V299.0H213.7V299.7H212.1V300.3H210.8V298.9H209.8V298.8H208.5V302.0H207.7V300.2H206.4V299.0H205.1V298.8H204.1V302.0H203.3V299.4H202.3V299.6H201.0V299.0H200.0V299.0H199.2V301.2H197.9V299.7H196.9V299.4H196.1V299.8H195.1V300.1H193.8V302.1H192.5V299.2H190.9V300.0H189.9V301.9H189.1V300.1H187.5V300.7H185.9V299.6H184.9V300.1H184.1V299.3H183.1V299.7H182.1V299.8H180.8V299.3H179.2V300.2H178.2V301.1H177.2V301.1H176.4V299.6H175.6V299.3H174.6V301.2H173.8V299.8H172.2V299.0H170.6V300.0H169.0V300.0H168.0V302.0H166.7V298.7H165.4V300.1H164.4V298.8H162.8V299.4H161.8V299.4H161.0V299.2H159.7V302.6H158.1V298.8H157.1V299.7H155.8V299.3H154.8V302.1H153.5V299.3H152.7V303.3H151.7V298.7H150.4V299.8H149.6V298.7H148.6V298.4H147.6V298.8H146.0V300.7H144.4V299.2H143.4V298.5H141.8V298.8H140.2V299.0H139.4V298.7H138.6V300.5H137.6V299.3H136.6V298.5H135.3V299.8H134.3V301.3H132.7V301.1H131.4V299.7H130.4V299.9H129.6V299.6H128.8V298.9H127.8V299.6H126.5V299.9H125.2V300.8H124.4V299.0H123.4V298.8H122.6V300.1H121.3V301.2H119.7V298.7H118.9V299.0H117.9V299.6H117.1V298.8H116.1V298.5H115.1V299.4H114.3V300.0H113.0V300.6H111.7V299.4H110.9V298.9H110.1V301.5H108.8V302.4H107.8V299.5H106.5V300.0H105.7V298.4H104.1V299.7H103.1V298.8H101.5V300.6H100.5V299.6H99.5V298.5H98.2V301.5H97.4V298.6H95.8V299.0H95.0V299.0H94.0V300.8H93.0V299.5H92.0V300.1H90.4V298.9H89.1V298.5H88.1V298.7H86.5V299.4H85.5V298.5H84.5V301.4H83.7V299.1H82.7V300.9H81.1V298.9H80.1V299.1H78.5V300.4H77.5V299.3H75.9V299.2H75.1V301.3H73.8V298.8H73.0V299.0H72.2V298.8H71.4V299.3H69.8V298.9H68.8V299.0H67.2V298.5H66.2V299.7H64.6V298.6H63.6V299.5H62.6V298.4H61.6V300.2H60.3V299.7H58.7V300.9H57.4V299.8H56.4V299.4H55.1V300.2H54.3V298.6H52.7V300.0H51.7V299.1H50.7V299.3H49.1V301.9H48.1V298.7H46.5V298.8H45.5V298.8H44.5V299.8H42.9V300.6H41.9V298.4H40.9V300.1H39.3V300.0H38.5V298.5H37.5V299.8H36.7V299.4H35.7V300.2H34.4V302.2H32.8V302.2H32.0V300.1H30.7V298.7H29.4V298.6H28.6V298.6H27.8V300.5H27.0V299.1H25.7V298.8H24.1V299.0H23.1V301.5H22.3V299.6H21.0V302.9H20.0V299.5H19.0V301.6H18.0V299.4H17.0V298.6H15.4V298.9H14.1V299.0H12.8V298.4H11.8V298.5H10.2V299.9H9.4V298.7H8.6V298.4H7.6Z" fill="#000"/>
<path d="M10.1 206.7V316.4M21.8 206.7V317.0M52.4 206.7V317.5M67.6 209.3V315.7M96.8 199.9V320.0M102.1 204.7V320.7M120.8 206.7V317.0M129.0 203.4V319.0M162.9 203.4V317.5M196.7 212.3V313.1M209.1 209.8V320.7M215.7 213.1V318.2M227.1 209.8V315.7M244.4 221.2V317.0M262.1 214.3V316.4M277.8 207.5V314.4M288.2 208.5V317.5M303.1 211.0V322.0M315.0 219.4V313.1M328.0 219.4V317.0M342.9 211.0V318.2M364.4 210.5V321.0M386.1 209.8V316.4M440.1 211.0V317.5M460.8 214.3V315.7M476.8 216.1V318.2M507.5 214.3V320.7M520.1 213.6V320.0M536.3 209.8V316.4M547.0 214.8V315.4M556.0 216.2V315.6M580.3 207.8V317.0M606.4 210.6V321.2M615.9 207.2V316.2M636.9 208.4V317.0M654.5 204.4V318.4M666.3 216.2V317.9M680.6 204.4V319.8M712.8 204.2V317.0M721.5 205.0V317.0M743.3 209.2V319.8" stroke="#000" stroke-width="1.5" fill="none"/>
<path d="M159.6 298V322" stroke="#000" stroke-width="1.5"/>
<text x="-0.35" y="380.7" font-size="28.5" font-weight="bold">B</text>
<text x="364.3" y="389.3" font-size="19.4" text-anchor="middle">100 µM Moxonidine</text>
<rect x="230.5" y="400" width="276.7" height="205.7" fill="#b2b2b2"/>
<path d="M79.60 590.0V461.9H87.57V590.0ZM86.37 590.0V454.2H94.34V590.0ZM93.14 590.0V452.1H101.11V590.0ZM99.91 590.0V450.9H107.88V590.0ZM106.68 590.0V482.1H114.65V590.0ZM113.45 590.0V461.9H121.42V590.0ZM120.22 590.0V452.1H128.19V590.0ZM126.99 590.0V461.9H134.96V590.0ZM133.76 590.0V454.2H141.73V590.0ZM140.53 590.0V465.3H148.50V590.0ZM147.30 590.0V436.5H155.27V590.0ZM154.07 590.0V458.1H162.04V590.0ZM160.84 590.0V467.7H168.81V590.0ZM167.61 590.0V452.1H175.58V590.0ZM174.38 590.0V434.3H182.35V590.0ZM181.15 590.0V445.1H189.12V590.0ZM187.92 590.0V437.4H195.89V590.0ZM194.69 590.0V447.3H202.66V590.0ZM201.46 590.0V460.0H209.43V590.0ZM208.23 590.0V443.2H216.20V590.0ZM215.00 590.0V427.4H222.97V590.0ZM221.77 590.0V437.7H229.74V590.0ZM228.54 590.0V424.5H236.51V590.0ZM235.31 590.0V458.1H243.28V590.0ZM242.08 590.0V454.5H250.05V590.0ZM248.85 590.0V442.0H256.82V590.0ZM255.62 590.0V431.9H263.59V590.0ZM262.39 590.0V431.9H270.36V590.0ZM269.16 590.0V454.0H277.13V590.0ZM275.93 590.0V452.1H283.90V590.0ZM282.70 590.0V452.1H290.67V590.0ZM289.47 590.0V461.9H297.44V590.0ZM296.24 590.0V478.0H304.21V590.0ZM303.01 590.0V503.9H310.98V590.0ZM309.78 590.0V509.2H317.75V590.0ZM316.55 590.0V502.0H324.52V590.0ZM323.32 590.0V520.0H331.29V590.0ZM330.09 590.0V516.4H338.06V590.0ZM336.86 590.0V513.3H344.83V590.0ZM343.63 590.0V526.0H351.60V590.0ZM350.40 590.0V518.1H358.37V590.0ZM357.17 590.0V516.4H365.14V590.0ZM363.94 590.0V494.8H371.91V590.0ZM370.71 590.0V521.9H378.68V590.0ZM377.48 590.0V544.0H385.45V590.0ZM384.25 590.0V528.4H392.22V590.0ZM391.02 590.0V522.4H398.99V590.0ZM397.79 590.0V534.4H405.76V590.0ZM404.56 590.0V522.4H412.53V590.0ZM411.33 590.0V534.6H419.30V590.0ZM418.10 590.0V515.1H426.07V590.0ZM424.87 590.0V518.0H432.84V590.0ZM431.64 590.0V519.7H439.61V590.0ZM438.41 590.0V507.7H446.38V590.0ZM445.18 590.0V513.2H453.15V590.0ZM451.95 590.0V530.0H459.92V590.0ZM458.72 590.0V538.9H466.69V590.0ZM465.49 590.0V548.5H473.46V590.0ZM472.26 590.0V537.2H480.23V590.0ZM479.03 590.0V524.0H487.00V590.0ZM485.80 590.0V516.3H493.77V590.0ZM492.57 590.0V518.0H500.54V590.0ZM499.34 590.0V534.8H507.31V590.0ZM506.11 590.0V534.8H514.08V590.0ZM512.88 590.0V500.7H520.85V590.0ZM519.65 590.0V524.0H527.62V590.0ZM526.42 590.0V528.1H534.39V590.0ZM533.19 590.0V538.9H541.16V590.0ZM539.96 590.0V530.0H547.93V590.0ZM546.73 590.0V540.8H554.70V590.0ZM553.50 590.0V522.1H561.47V590.0ZM560.27 590.0V500.7H568.24V590.0ZM567.04 590.0V518.0H575.01V590.0ZM573.81 590.0V503.6H581.78V590.0ZM580.58 590.0V518.0H588.55V590.0ZM587.35 590.0V515.1H595.32V590.0ZM594.12 590.0V515.1H602.09V590.0ZM600.89 590.0V487.3H608.86V590.0ZM607.66 590.0V516.3H615.63V590.0ZM614.43 590.0V516.3H622.40V590.0ZM621.20 590.0V513.2H629.17V590.0ZM627.97 590.0V511.3H635.94V590.0ZM634.74 590.0V522.1H642.71V590.0ZM641.51 590.0V524.0H649.48V590.0ZM648.28 590.0V509.6H656.25V590.0ZM655.05 590.0V505.3H663.02V590.0ZM661.82 590.0V487.3H669.79V590.0ZM668.59 590.0V515.1H676.56V590.0ZM675.36 590.0V505.3H683.33V590.0ZM682.13 590.0V518.0H690.10V590.0ZM688.90 590.0V505.3H696.87V590.0ZM695.67 590.0V496.9H703.64V590.0ZM702.44 590.0V496.9H710.41V590.0ZM709.21 590.0V478.4H717.18V590.0ZM715.98 590.0V496.9H723.95V590.0ZM722.75 590.0V513.2H730.72V590.0ZM729.52 590.0V496.9H737.49V590.0ZM736.29 590.0V507.7H744.26V590.0ZM743.06 590.0V516.3H748.50V590.0Z" fill="#000"/>
<g stroke="#7a7a7a" stroke-width="1.3" fill="none">
<path d="M72.4 407.4V588.3"/>
<path d="M61.3 588.3H72.4"/>
<path d="M61.3 552.1H72.4"/>
<path d="M55.6 515.9H72.4"/>
<path d="M61.3 479.8H72.4"/>
<path d="M55.6 443.6H72.4"/>
<path d="M61.3 407.4H72.4"/>
</g>
<text x="50.5" y="594.4" font-size="19.5" text-anchor="end">0</text>
<text x="50.5" y="558.2" font-size="19.5" text-anchor="end">1</text>
<text x="50.5" y="522.0" font-size="19.5" text-anchor="end">2</text>
<text x="50.5" y="485.9" font-size="19.5" text-anchor="end">3</text>
<text x="50.5" y="449.7" font-size="19.5" text-anchor="end">4</text>
<text x="50.5" y="413.5" font-size="19.5" text-anchor="end">5</text>
<text transform="translate(15.7,499.3) rotate(-90)" font-size="19.7" text-anchor="middle">Spikes/s</text>
<rect x="648.9" y="601.5" width="99.5" height="6.4" fill="#000"/>
<text x="696.4" y="633.2" font-size="19.8" text-anchor="middle">5 min</text>
<text x="0.9" y="689.3" font-size="28" font-weight="bold">C</text>
<rect x="96" y="703.4" width="46.2" height="244.2" fill="#fff" stroke="#000" stroke-width="1.3"/>
<rect x="142.3" y="796.2" width="46.5" height="151.4" fill="#c3c3c3" stroke="#000" stroke-width="1.3"/>
<rect x="188.8" y="740.0" width="46.0" height="207.6" fill="#404040" stroke="#000" stroke-width="1.3"/>
<g stroke="#000" stroke-width="1.4" fill="none">
<path d="M165.3 796.2V783.5M156.4 783.5H173.5"/>
<path d="M211.6 740.0V716.5M202.8 716.5H220.4"/>
<path d="M78 700.5V947.6M63 947.6H252.3"/>
<path d="M62.4 703.4H78"/>
<path d="M62.4 764.5H78"/>
<path d="M62.4 825.5H78"/>
<path d="M62.4 886.6H78"/>
<path d="M62.4 947.6H78"/>
<path d="M68.5 733.9H78"/>
<path d="M68.5 795.0H78"/>
<path d="M68.5 856.0H78"/>
<path d="M68.5 917.1H78"/>
</g>
<text x="56.1" y="711.8" font-size="22" text-anchor="end">100</text>
<text x="56.1" y="772.9" font-size="22" text-anchor="end">75</text>
<text x="56.1" y="833.9" font-size="22" text-anchor="end">50</text>
<text x="56.1" y="895.0" font-size="22" text-anchor="end">25</text>
<text x="56.1" y="956.0" font-size="22" text-anchor="end">0</text>
<text x="147.7" y="791.2" font-size="41" font-weight="bold" letter-spacing="3.2">**</text>
<text transform="translate(15.3,825.4) rotate(-90)" font-size="19.6" text-anchor="middle">Mean firing rate [%]</text>
<text transform="translate(130.6,959.7) rotate(-45)" font-size="18.2" font-weight="bold" text-anchor="end">Control</text>
<text transform="translate(178.0,956.6) rotate(-45)" font-size="18.5" font-weight="bold" text-anchor="end">Moxonidine</text>
<text transform="translate(223.9,958.2) rotate(-45)" font-size="19.5" font-weight="bold" text-anchor="end">Wash</text>
<text x="293.1" y="689.8" font-size="28.8" font-weight="bold">D</text>
<text x="527.9" y="697.3" font-size="19.4" text-anchor="middle">Moxonidine</text>
<rect x="471.3" y="707.9" width="115.9" height="225" fill="#b2b2b2"/>
<path d="M380 736.8H748.5" stroke="#000" stroke-width="1.8" stroke-dasharray="1.6 1.2"/>
<g stroke="#000" stroke-width="1.5" fill="none">
<path d="M378.8 698.7V907.5M378.8 912.5V947.2M362.9 947.2H748"/>
<path d="M363.3 888.9H378.8"/>
<path d="M363.3 850.9H378.8"/>
<path d="M363.3 812.8H378.8"/>
<path d="M363.3 774.8H378.8"/>
<path d="M363.3 736.8H378.8"/>
<path d="M363.3 698.8H378.8"/>
<path d="M370.4 869.9H378.8"/>
<path d="M370.4 831.8H378.8"/>
<path d="M370.4 793.8H378.8"/>
<path d="M370.4 755.8H378.8"/>
<path d="M370.4 717.8H378.8"/>
<path d="M363.3 923.6H378.8M370.4 935.1H378.8"/>
<path d="M378.6 947.2V951.5"/>
<path d="M401.7 947.2V953.7"/>
<path d="M424.8 947.2V951.5"/>
<path d="M447.8 947.2V951.5"/>
<path d="M470.9 947.2V953.7"/>
<path d="M494.0 947.2V951.5"/>
<path d="M517.0 947.2V951.5"/>
<path d="M540.1 947.2V953.7"/>
<path d="M563.2 947.2V951.5"/>
<path d="M586.2 947.2V951.5"/>
<path d="M609.3 947.2V953.7"/>
<path d="M632.4 947.2V951.5"/>
<path d="M655.5 947.2V951.5"/>
<path d="M678.5 947.2V953.7"/>
<path d="M701.6 947.2V951.5"/>
<path d="M724.7 947.2V951.5"/>
<path d="M747.7 947.2V953.7"/>
</g>
<g stroke="#000" stroke-width="1.5" fill="none"><path d="M363.3 910.6L394 905.9M363.3 914.6L394 910.1"/></g>
<text x="357.3" y="898.4" font-size="19.3" text-anchor="end">60</text>
<text x="357.3" y="856.7" font-size="19.3" text-anchor="end">70</text>
<text x="357.3" y="818.6" font-size="19.3" text-anchor="end">80</text>
<text x="357.3" y="780.6" font-size="19.3" text-anchor="end">90</text>
<text x="357.3" y="742.6" font-size="19.3" text-anchor="end">100</text>
<text x="357.3" y="704.6" font-size="19.3" text-anchor="end">110</text>
<text x="357.3" y="931" font-size="19.3" text-anchor="end">10</text>
<text x="357.3" y="954.4" font-size="19.3" text-anchor="end">0</text>
<text x="402.1" y="979.9" font-size="19.4" text-anchor="middle">-9</text>
<text x="471.3" y="979.9" font-size="19.4" text-anchor="middle">0</text>
<text x="540.5" y="979.9" font-size="19.4" text-anchor="middle">9</text>
<text x="609.7" y="979.9" font-size="19.4" text-anchor="middle">18</text>
<text x="678.9" y="979.9" font-size="19.4" text-anchor="middle">27</text>
<text x="564.8" y="1008.6" font-size="19.4" text-anchor="middle">Time [min]</text>
<text x="748.4" y="921.8" font-size="19.4" text-anchor="end"><tspan font-style="italic">n</tspan> = 13</text>
<text transform="translate(308.8,826.4) rotate(-90)" font-size="19.6" text-anchor="middle">Mean firing rate [%]</text>
<path d="M410.8 736.9L415.6 737.5M433.9 737.7L438.7 737.2M457.0 736.5L461.7 736.6M479.3 740.5L485.6 743.5M502.1 751.7L509.0 755.4M520.8 768.2L536.4 803.0M544.0 819.7L559.3 852.1M570.7 865.7L578.7 871.3M591.4 869.0L604.2 850.1M616.2 836.4L625.5 828.1M641.3 819.9L646.5 818.6M663.8 820.4L670.2 823.5M687.7 828.2L692.4 828.5M710.0 825.5L716.3 822.5" stroke="#000" stroke-width="1.7" fill="none"/>
<path d="M401.7 726.9V745.1M396.4 726.9H407.0M396.4 745.1H407.0M447.8 726.4V746.6M442.5 726.4H453.1M442.5 746.6H453.1M494.0 732.7V762.0M488.7 732.7H499.3M488.7 762.0H499.3M517.0 741.0V778.2M511.7 741.0H522.3M511.7 778.2H522.3M540.1 784.7V837.8M534.8 784.7H545.4M534.8 837.8H545.4M563.2 826.1V894.1M557.9 826.1H568.5M557.9 894.1H568.5M586.2 845.5V906.5M581.0 845.5H591.5M581.0 906.5H591.5M609.3 816.8V869.3M604.0 816.8H614.6M604.0 869.3H614.6M632.4 775.9V867.6M627.1 775.9H637.7M627.1 867.6H637.7M655.5 784.4V848.0M650.2 784.4H660.8M650.2 848.0H660.8M678.5 796.8V857.3M673.2 796.8H683.8M673.2 857.3H683.8M701.6 797.4V862.1M696.3 797.4H706.9M696.3 862.1H706.9M724.7 774.8V863.3M719.4 774.8H730.0M719.4 863.3H730.0" stroke="#000" stroke-width="1.6" fill="none"/>
<circle cx="401.7" cy="735.9" r="7.0" fill="#000"/>
<circle cx="424.8" cy="738.5" r="7.0" fill="#000"/>
<circle cx="447.8" cy="736.4" r="7.0" fill="#000"/>
<circle cx="470.9" cy="736.7" r="7.0" fill="#000"/>
<circle cx="494.0" cy="747.3" r="7.0" fill="#000"/>
<circle cx="517.0" cy="759.8" r="7.0" fill="#000"/>
<circle cx="540.1" cy="811.4" r="7.0" fill="#000"/>
<circle cx="563.2" cy="860.4" r="7.0" fill="#000"/>
<circle cx="586.2" cy="876.6" r="7.0" fill="#000"/>
<circle cx="609.3" cy="842.5" r="7.0" fill="#000"/>
<circle cx="632.4" cy="822.0" r="7.0" fill="#000"/>
<circle cx="655.5" cy="816.5" r="7.0" fill="#000"/>
<circle cx="678.5" cy="827.4" r="7.0" fill="#000"/>
<circle cx="701.6" cy="829.3" r="7.0" fill="#000"/>
<circle cx="724.7" cy="818.7" r="7.0" fill="#000"/>
</svg></body></html>
